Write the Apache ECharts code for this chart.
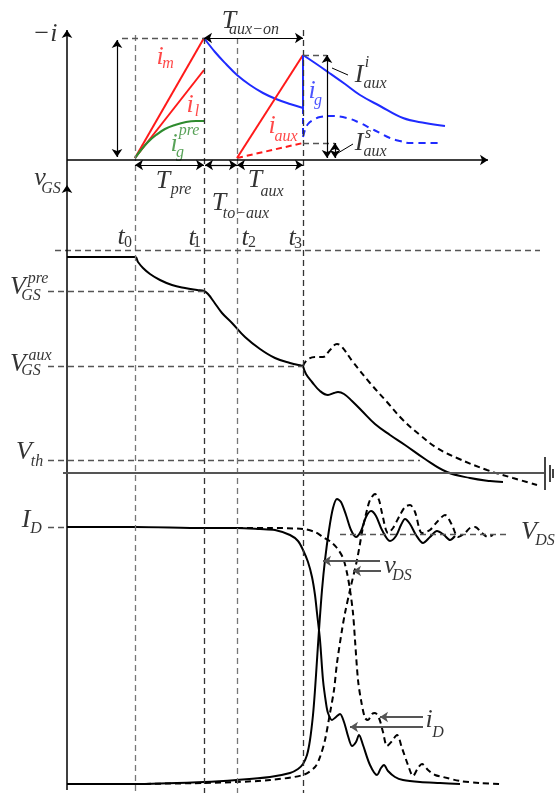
<!DOCTYPE html>
<html>
<head>
<meta charset="utf-8">
<script src="https://cdn.jsdelivr.net/npm/echarts@6/dist/echarts.min.js"></script>
<style>
html, body {margin: 0; padding: 0; background: #fff;}
#main {width: 556px; height: 793px;}
</style>
</head>
<body>
<div id="main"></div>
<script>
// 开关时序示意图：上 -i，中 vGS，下 iD / vDS
// 坐标单位就是示意图本身的刻度（x 向右为时间，y 向下）

var t_marks = [135, 204, 237, 303]; // t0 t1 t2 t3

// -i 面板
var im_line = [[135, 158], [204, 38]];
var il_line = [[135, 158], [204, 70]];
var ig_pre = [[135, 158], [141, 150], [148, 142], [156, 135], [165, 129], [175, 125], [186, 122], [196, 121], [204, 121]];
var ig_decay1 = [[204, 38], [215, 52], [226, 64], [237, 75], [250, 85], [263, 93], [276, 99], [290, 104], [303, 108]];
var iaux_line = [[237, 158], [303, 55]];
var ig_jump = [[303, 55], [303, 108]];
var ig_decay2 = [[303, 55], [315, 63], [328, 72], [345, 84], [360, 95], [380, 106], [403, 118], [425, 123], [445, 126]];
var iaux_soft = [[237, 158], [303, 143]];
var ig_soft_jump = [[303, 108], [303, 137]];
var ig_soft = [[303, 137], [305, 130], [308, 124], [313, 120], [320, 117], [330, 116], [347, 118], [360, 123], [370, 128],
    [380, 133], [390, 138], [400, 141], [410, 143], [442, 143]];

// vGS 面板
var vgs_main = [[67, 257], [135, 257], [138, 262], [143, 268], [150, 274], [160, 280], [172, 285], [185, 288], [197, 290],
    [204, 291], [208, 294], [214, 302], [222, 313], [232, 323], [245, 337], [260, 349], [275, 358], [290, 363], [303, 366]];
var vgs_after = [[303, 366], [306, 374], [312, 382], [320, 391], [328, 395], [334, 393], [338, 392], [344, 394], [352, 401],
    [362, 411], [375, 424], [390, 435], [405, 445], [425, 459], [447, 472], [470, 478], [490, 481], [503, 482]];
var vgs_after_soft = [[303, 366], [307, 360], [315, 357], [323, 357], [330, 350], [337, 344], [342, 347], [353, 362],
    [370, 383], [387, 402], [403, 420], [420, 435], [437, 448], [457, 458], [487, 470], [513, 478], [537, 485]];

// iD / vDS 面板
var id_main = [[67, 527], [135, 527], [204, 528], [237, 528], [260, 529], [275, 530], [290, 535], [298, 541], [303, 550],
    [308, 562], [312, 577], [315, 595], [317, 613], [320, 640], [323, 680], [326, 703], [328, 713], [332, 720], [336, 717],
    [340, 714], [344, 722], [348, 736], [352, 746], [356, 742], [359, 735], [363, 745], [370, 765], [377, 775], [381, 768],
    [384, 765], [388, 771], [395, 777], [403, 780], [420, 782], [440, 783], [460, 784]];
var vds_main = [[67, 784], [135, 784], [204, 782], [237, 780], [270, 777], [290, 773], [298, 769], [303, 764], [307, 755],
    [310, 740], [313, 715], [315, 690], [317, 660], [319, 630], [322, 590], [325, 560], [329, 530], [333, 508], [337, 499],
    [341, 502], [346, 515], [351, 530], [356, 537], [361, 531], [366, 517], [371, 511], [376, 516], [382, 530], [390, 541],
    [396, 536], [401, 525], [405, 519], [410, 524], [416, 535], [423, 543], [430, 537], [437, 531], [444, 535], [450, 540], [455, 536]];
var id_soft = [[237, 528], [270, 528], [303, 529], [315, 532], [323, 537], [331, 542], [337, 548], [343, 558], [347, 573],
    [350, 590], [353, 613], [355, 640], [358, 680], [361, 700], [365, 718], [368, 720], [372, 714], [375, 713], [379, 718],
    [383, 732], [387, 746], [392, 741], [397, 735], [402, 748], [408, 765], [413, 776], [418, 768], [422, 764], [428, 770],
    [435, 775], [443, 777], [460, 781], [480, 783], [500, 784]];
var vds_soft = [[135, 784], [204, 783], [237, 782], [270, 780], [303, 775], [315, 767], [320, 757], [325, 740], [330, 713],
    [334, 690], [337, 663], [342, 630], [345, 613], [350, 590], [357, 560], [363, 527], [367, 510], [370, 500], [375, 494],
    [379, 500], [382, 513], [388, 533], [393, 528], [400, 515], [405, 507], [410, 505], [415, 512], [422, 533], [430, 530],
    [437, 522], [445, 515], [452, 525], [458, 537], [465, 533], [470, 528], [475, 527], [482, 533], [488, 537], [493, 535]];

// 坐标轴、参考虚线、箭头 [x1, y1, x2, y2]
var axis_lines = [[67, 790, 67, 185], [67, 185, 67, 30], [67, 160, 488, 160]];
var zero_line = [[63, 473, 545, 473]];
var ground_lines = [[545, 457, 545, 490], [550, 465, 550, 482], [553, 469, 553, 478]];
var level_dash = [[55, 250, 540, 250], [48, 291, 204, 291], [48, 366, 303, 366], [48, 460, 420, 460],
    [48, 527, 67, 527], [340, 534, 510, 534], [122, 38, 204, 38], [303, 55, 327, 55], [303, 143, 335, 143]];
var span_arrows = [[117, 40, 117, 157], [204, 38, 303, 38], [135, 165, 204, 165], [205, 165, 237, 165],
    [237, 165, 303, 165], [327, 55, 327, 158], [335, 143, 335, 158]];
var leader_lines = [[332, 68, 348, 75], [338, 153, 353, 144]];
var pointer_arrows = [[380, 561, 323, 561], [381, 571, 353, 571], [423, 717, 380, 717], [423, 727, 350, 727]];
var t_tops = [35, 38, 38, 30];
var t_bottom = 793;

// 文字 [x, y, text]
var text_black = [[45, 34, '−i'], [40, 178, 'v'], [229, 21, 'T'], [163, 181, 'T'], [219, 203, 'T'], [255, 180, 'T'],
    [121, 237, 't'], [192, 238, 't'], [245, 238, 't'], [292, 238, 't'],
    [18, 287, 'V'], [18, 364, 'V'], [24, 452, 'V'], [26, 520, 'I'], [529, 532, 'V'], [390, 566, 'v'], [429, 720, 'i'],
    [359, 75, 'I'], [359, 143, 'I']];
var text_black_small = [[254, 30, 'aux−on'], [181, 190, 'pre'], [246, 214, 'to−aux'], [272, 192, 'aux'], [51, 189, 'GS'],
    [38, 279, 'pre'], [31, 296, 'GS'], [40, 356, 'aux'], [31, 371, 'GS'], [37, 462, 'th'], [36, 529, 'D'],
    [545, 541, 'DS'], [402, 576, 'DS'], [438, 733, 'D'], [367, 63, 'i'], [375, 84, 'aux'], [368, 134, 's'], [375, 152, 'aux']];
var text_digits = [[128, 243, '0'], [197, 243, '1'], [252, 243, '2'], [298, 244, '3']];
var text_red = [[160, 57, 'i'], [190, 105, 'i'], [272, 126, 'i']];
var text_red_small = [[168, 64, 'm'], [197, 112, 'l'], [286, 137, 'aux']];
var text_green = [[174, 144, 'i']];
var text_green_small = [[180, 153, 'g'], [189, 131, 'pre']];
var text_blue = [[312, 91, 'i']];
var text_blue_small = [[318, 101, 'g']];

var RED = '#ff1a1a', BLUE = '#1f2bff', GREEN = '#2e8b2e';

function curve(data, color, type, width, smooth) {
    return {
        type: 'line',
        data: data,
        symbol: 'none',
        smooth: smooth,
        silent: true,
        lineStyle: {color: color, type: type, width: width}
    };
}

function segs(list, color, type, width, startSym, endSym) {
    return {
        type: 'line',
        data: [],
        symbol: 'none',
        silent: true,
        markLine: {
            silent: true,
            animation: false,
            label: {show: false},
            emphasis: {disabled: true},
            lineStyle: {color: color, type: type, width: width},
            data: list.map(function (s) {
                return [
                    {coord: [s[0], s[1]], symbol: startSym, symbolSize: 8},
                    {coord: [s[2], s[3]], symbol: endSym, symbolSize: 8}
                ];
            })
        }
    };
}

function texts(list, color, size, style) {
    return {
        type: 'scatter',
        symbolSize: 0,
        silent: true,
        data: list.map(function (it) {
            return {value: [it[0], it[1]], name: it[2]};
        }),
        label: {
            show: true,
            position: 'inside',
            formatter: '{b}',
            color: color,
            fontSize: size,
            fontStyle: style || 'italic',
            fontFamily: 'Liberation Serif'
        }
    };
}

var t_lines = t_marks.map(function (x, i) {
    return [x, t_tops[i], x, t_bottom];
});

var chart = echarts.init(document.getElementById('main'), null, {renderer: 'canvas'});
chart.setOption({
    animation: false,
    grid: {left: 0, right: 0, top: 0, bottom: 0},
    xAxis: {type: 'value', min: 0, max: 556, show: false},
    yAxis: {type: 'value', min: 0, max: 793, inverse: true, show: false},
    series: [
        segs([t_lines[0], t_lines[2]], '#777', [6, 4], 1.3, 'none', 'none'),
        segs([t_lines[1], t_lines[3]], '#333', [6, 4], 1.3, 'none', 'none'),
        segs(level_dash, '#555', [6, 4], 1.3, 'none', 'none'),
        segs(axis_lines, '#000', 'solid', 1.5, 'none', 'arrow'),
        segs(zero_line, '#555', 'solid', 2, 'none', 'none'),
        segs(ground_lines, '#444', 'solid', 2, 'none', 'none'),
        segs(span_arrows, '#000', 'solid', 1.2, 'arrow', 'arrow'),
        segs(leader_lines, '#000', 'solid', 1, 'none', 'none'),
        segs(pointer_arrows, '#555', 'solid', 2, 'none', 'arrow'),

        curve(im_line, RED, 'solid', 2, false),
        curve(il_line, RED, 'solid', 2, false),
        curve(ig_pre, GREEN, 'solid', 2.2, 0.4),
        curve(ig_decay1, BLUE, 'solid', 2, 0.4),
        curve(iaux_line, RED, 'solid', 2, false),
        curve(ig_jump, BLUE, 'solid', 2, false),
        curve(ig_decay2, BLUE, 'solid', 2, 0.4),
        curve(iaux_soft, RED, [6, 4], 2, false),
        curve(ig_soft_jump, BLUE, [6, 4], 2, false),
        curve(ig_soft, BLUE, [7, 5], 2, 0.4),

        curve(vgs_main, '#000', 'solid', 2, 0.4),
        curve(vgs_after, '#000', 'solid', 2, 0.4),
        curve(vgs_after_soft, '#000', [6, 4], 2, 0.4),

        curve(id_main, '#000', 'solid', 2, 0.3),
        curve(vds_main, '#000', 'solid', 2, 0.3),
        curve(id_soft, '#000', [6, 4], 2, 0.3),
        curve(vds_soft, '#000', [6, 4], 2, 0.3),

        texts(text_black, '#000', 26),
        texts(text_black_small, '#000', 16),
        texts(text_digits, '#000', 16, 'normal'),
        texts(text_red, RED, 26),
        texts(text_red_small, RED, 16),
        texts(text_green, GREEN, 26),
        texts(text_green_small, GREEN, 16),
        texts(text_blue, BLUE, 26),
        texts(text_blue_small, BLUE, 16)
    ]
});
</script>
</body>
</html>
